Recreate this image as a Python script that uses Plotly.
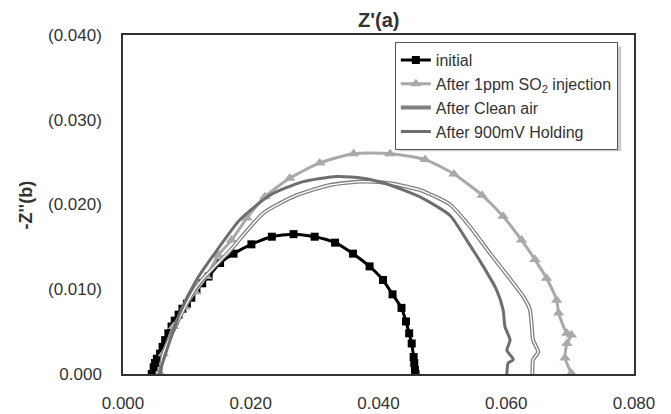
import plotly.graph_objects as go

# ---- data ----
initial_x = [0.0045, 0.0048, 0.0050, 0.0053, 0.0058, 0.0062, 0.0066, 0.0071, 0.0076, 0.0081,
             0.0087, 0.0093, 0.0100, 0.0107, 0.0115, 0.0124, 0.0134, 0.0152, 0.0173, 0.0201,
             0.0233, 0.0267, 0.0300, 0.0332, 0.0360, 0.0386, 0.0407, 0.0422, 0.0436, 0.0443,
             0.0448, 0.0452, 0.0455, 0.0456, 0.0457, 0.0458]
initial_y = [0.0000, 0.0008, 0.0013, 0.0018, 0.0024, 0.0032, 0.0040, 0.0048, 0.0056, 0.0063,
             0.0070, 0.0077, 0.0083, 0.0090, 0.0099, 0.0107, 0.0115, 0.0131, 0.0142, 0.0153,
             0.0162, 0.0165, 0.0162, 0.0155, 0.0142, 0.0127, 0.0111, 0.0094, 0.0078, 0.0062,
             0.0048, 0.0036, 0.0020, 0.0013, 0.0005, 0.0000]

so2_x = [0.0058, 0.0063, 0.0079, 0.0097, 0.0113, 0.0131, 0.0149, 0.0170, 0.0194, 0.0222,
         0.0261, 0.0308, 0.0361, 0.0418, 0.0473, 0.0518, 0.0562, 0.0595, 0.0624, 0.0645,
         0.0663, 0.0679, 0.0682, 0.0695, 0.0702, 0.0695, 0.0692, 0.0702]
so2_y = [0.0001, 0.0024, 0.0056, 0.0079, 0.0097, 0.0115, 0.0140, 0.0158, 0.0184, 0.0209,
         0.0231, 0.0249, 0.0260, 0.0260, 0.0253, 0.0236, 0.0211, 0.0186, 0.0158, 0.0135,
         0.0113, 0.0087, 0.0072, 0.0048, 0.0046, 0.0036, 0.0019, 0.0001]

clean_x = [0.0058, 0.0063, 0.0115, 0.0168, 0.0220, 0.0272, 0.0324, 0.0376, 0.0418, 0.0465,
           0.0512, 0.0543, 0.0575, 0.0603, 0.0627, 0.0637, 0.0640, 0.0642, 0.0650, 0.0642,
           0.0641]
clean_y = [0.0000, 0.0024, 0.0103, 0.0146, 0.0190, 0.0211, 0.0223, 0.0227, 0.0225, 0.0217,
           0.0200, 0.0174, 0.0142, 0.0115, 0.0091, 0.0076, 0.0056, 0.0040, 0.0026, 0.0017,
           0.0000]

hold_x = [0.0058, 0.0060, 0.0089, 0.0115, 0.0147, 0.0183, 0.0230, 0.0282, 0.0335, 0.0376,
          0.0418, 0.0465, 0.0512, 0.0538, 0.0564, 0.0585, 0.0595, 0.0598, 0.0606, 0.0601,
          0.0611, 0.0603, 0.0601]
hold_y = [0.0000, 0.0008, 0.0072, 0.0111, 0.0146, 0.0182, 0.0211, 0.0227, 0.0233, 0.0231,
          0.0223, 0.0209, 0.0187, 0.0158, 0.0127, 0.0099, 0.0076, 0.0056, 0.0040, 0.0028,
          0.0017, 0.0013, 0.0000]

series_names = ["initial", "After 1ppm SO<sub>2</sub> injection", "After Clean air",
                "After 900mV Holding"]

x_tickvals = [0.0, 0.02, 0.04, 0.06, 0.08]
x_ticktext = ["0.000", "0.020", "0.040", "0.060", "0.080"]
y_tickvals = [0.0, 0.01, 0.02, 0.03, 0.04]
y_ticktext = ["0.000", "(0.010)", "(0.020)", "(0.030)", "(0.040)"]

FONT = "Liberation Sans, Arial, sans-serif"

fig = go.Figure()

fig.add_trace(go.Scatter(
    x=initial_x, y=initial_y, name=series_names[0], mode="lines+markers",
    line=dict(color="#000000", width=3, shape="spline", smoothing=0.6),
    marker=dict(symbol="square", size=8, color="#000000")))

fig.add_trace(go.Scatter(
    x=so2_x, y=so2_y, name=series_names[1], mode="lines+markers",
    line=dict(color="#a9a9a9", width=3, shape="spline", smoothing=0.6),
    marker=dict(symbol="triangle-up", size=10, color="#a9a9a9")))

fig.add_trace(go.Scatter(
    x=clean_x, y=clean_y, name=series_names[2], mode="lines",
    line=dict(color="#808080", width=4, shape="spline", smoothing=0.6)))
fig.add_trace(go.Scatter(
    x=clean_x, y=clean_y, name=series_names[2], mode="lines", showlegend=False,
    hoverinfo="skip",
    line=dict(color="#ffffff", width=1.4, shape="spline", smoothing=0.6)))

fig.add_trace(go.Scatter(
    x=hold_x, y=hold_y, name=series_names[3], mode="lines",
    line=dict(color="#6e6e6e", width=3, shape="spline", smoothing=0.6)))

# the page body adds an 8px margin, so the figure is 8px smaller and offset
fig.update_layout(
    width=663, height=406,
    margin=dict(l=115, r=37, t=27, b=40),
    paper_bgcolor="white", plot_bgcolor="white",
    font=dict(family=FONT, color="#333333"),
    showlegend=True,
    legend=dict(x=0.532, y=0.979, xanchor="left", yanchor="top",
                bgcolor="white", bordercolor="#555555", borderwidth=1,
                font=dict(size=16, color="#333333"), tracegroupgap=0),
    xaxis=dict(range=[0, 0.08], tickvals=x_tickvals, ticktext=x_ticktext,
               showgrid=False, zeroline=False, showline=True, linecolor="#333333",
               linewidth=1.5, mirror=True, ticks="", ticklabelstandoff=13,
               automargin=False,
               tickfont=dict(size=17, color="#333333")),
    yaxis=dict(range=[0, 0.04], tickvals=y_tickvals, ticktext=y_ticktext,
               showgrid=False, zeroline=False, showline=True, linecolor="#333333",
               linewidth=1.5, mirror=True, ticks="", ticklabelstandoff=16,
               automargin=False,
               tickfont=dict(size=17, color="#333333")),
    shapes=[
        # soft shadow behind the legend box
        dict(type="rect", xref="paper", yref="paper", layer="above",
             x0=0.540, x1=0.975, y0=0.657, y1=0.967,
             fillcolor="#cccccc", line=dict(width=0)),
    ],
    annotations=[
        dict(text="<b>Z'(a)</b>", xref="paper", yref="paper", x=0.5, y=1.045,
             xanchor="center", yanchor="middle", showarrow=False,
             font=dict(size=20, color="#333333")),
        dict(text="<b>-Z''(b)</b>", xref="paper", yref="paper", x=-0.19, y=0.5,
             xanchor="center", yanchor="middle", showarrow=False, textangle=-90,
             font=dict(size=18, color="#333333")),
    ],
)

fig.write_html("out.html")
